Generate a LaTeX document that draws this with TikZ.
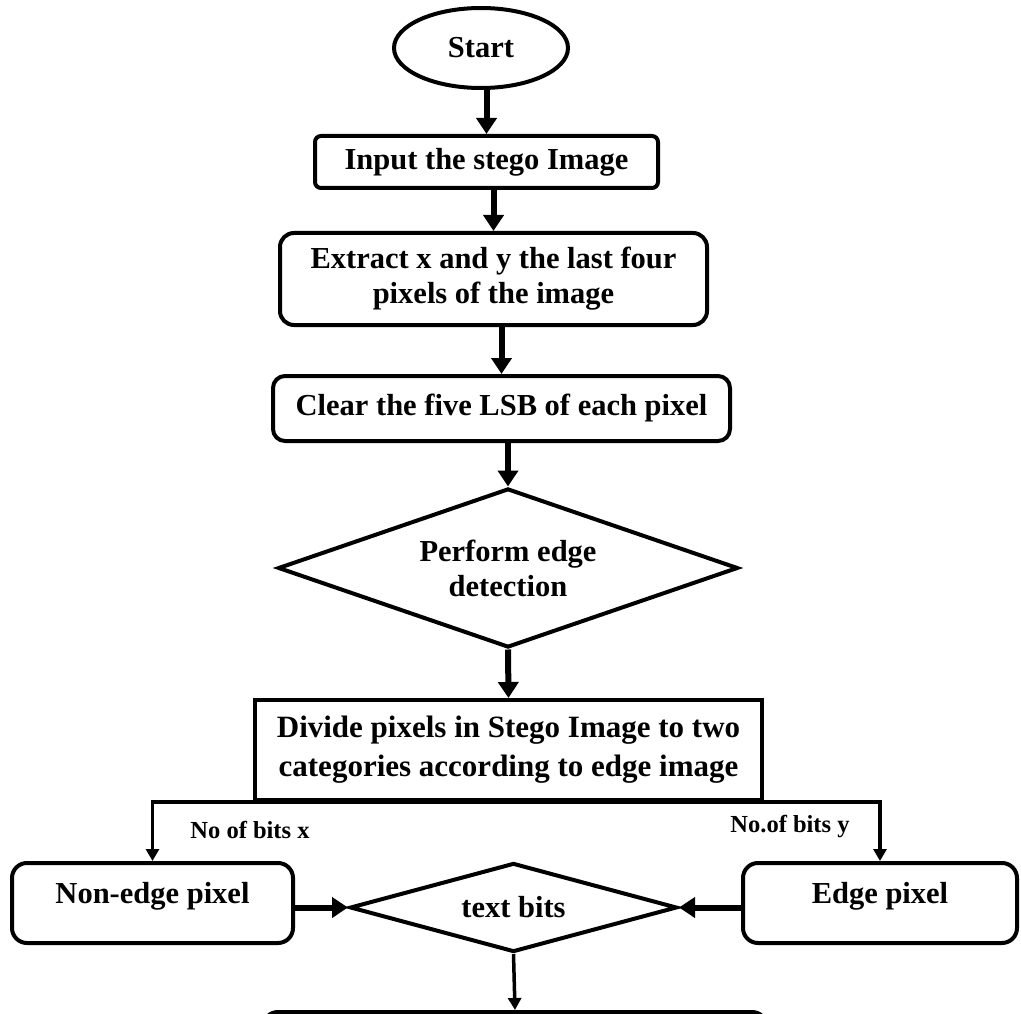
\documentclass[tikz,border=0pt]{standalone}
\usepackage{fontspec}
\setmainfont{Liberation Serif}
\usetikzlibrary{shapes.geometric,arrows.meta}

\begin{document}
\begin{tikzpicture}[x=1pt,y=-1pt,
  every node/.style={font=\fontsize{30.5}{35}\selectfont\bfseries,align=center,inner sep=0pt},
  stepbox/.style={draw,line width=4pt,rounded corners=14pt},
  plainbox/.style={draw,line width=4pt},
  startnode/.style={draw,ellipse,line width=4pt},
  decision/.style={draw,diamond,line width=4pt},
  bitlabel/.style={font=\fontsize{24.5}{28}\selectfont\bfseries},
  flowarrow/.style={line width=6pt,-{Triangle[width=20pt,length=16pt]}},
  thinarrow/.style={line width=3.5pt,-{Triangle[width=13pt,length=12pt]}}]
\clip (0,0) rectangle (1021,1014);
\fill[white] (0,0) rectangle (1021,1014);
% main column
\node[startnode,minimum width=174pt,minimum height=80pt] (start) at (481,48) {Start};
\node[stepbox,rounded corners=6pt,minimum width=343pt,minimum height=52pt] (input) at (486.5,162) {Input the stego Image};
\node[stepbox,minimum width=427pt,minimum height=92pt] (extract) at (493.5,279) {Extract x and y the last four\\pixels of the image};
\node[stepbox,rounded corners=12pt,minimum width=457pt,minimum height=65pt] (clear) at (501.5,408.5) {Clear the five LSB of each pixel};
\node[decision,aspect=2.9,minimum width=460pt,minimum height=159pt] (detect) at (508,568) {Perform edge\\detection};
\node[plainbox,minimum width=507pt,minimum height=100pt,font=\fontsize{31}{39}\selectfont\bfseries] (divide) at (508.5,750) {Divide pixels in Stego Image to two\\categories according to edge image};
% the two kinds of pixel
\node[stepbox,rounded corners=15pt,minimum width=281pt,minimum height=80pt,text height=20pt,text depth=20pt] (nonedge) at (152.5,903) {Non-edge pixel};
\node[stepbox,rounded corners=15pt,minimum width=274pt,minimum height=80pt,text height=20pt,text depth=20pt] (edge) at (880,903) {Edge pixel};
\node[decision,aspect=3.67,minimum width=327pt,minimum height=89pt] (bits) at (513.5,907.5) {text bits};
\node[bitlabel] (labx) at (250,830) {No of bits x};
\node[bitlabel] (laby) at (790,827) {No.of bits y};
\node[stepbox,rounded corners=15pt,minimum width=504pt,minimum height=80pt,anchor=north] (output) at (515,1010) {};
% connectors
\draw[flowarrow] (input.north |- start.south) -- (input.north);
\draw[flowarrow] (extract.north |- input.south) -- (extract.north);
\draw[flowarrow] (clear.north |- extract.south) -- (clear.north);
\draw[flowarrow] (detect.north |- clear.south) -- (detect.north);
\draw[flowarrow] (detect.south) -- (divide.north);
\draw[thinarrow] (divide.south) -| (nonedge.north);
\draw[thinarrow] (divide.south) -| (edge.north);
\draw[flowarrow] (nonedge.east |- bits.west) -- (bits.west);
\draw[flowarrow] (edge.west |- bits.east) -- (bits.east);
\draw[thinarrow] (bits.south) -- (output.north);
\end{tikzpicture}
\end{document}
